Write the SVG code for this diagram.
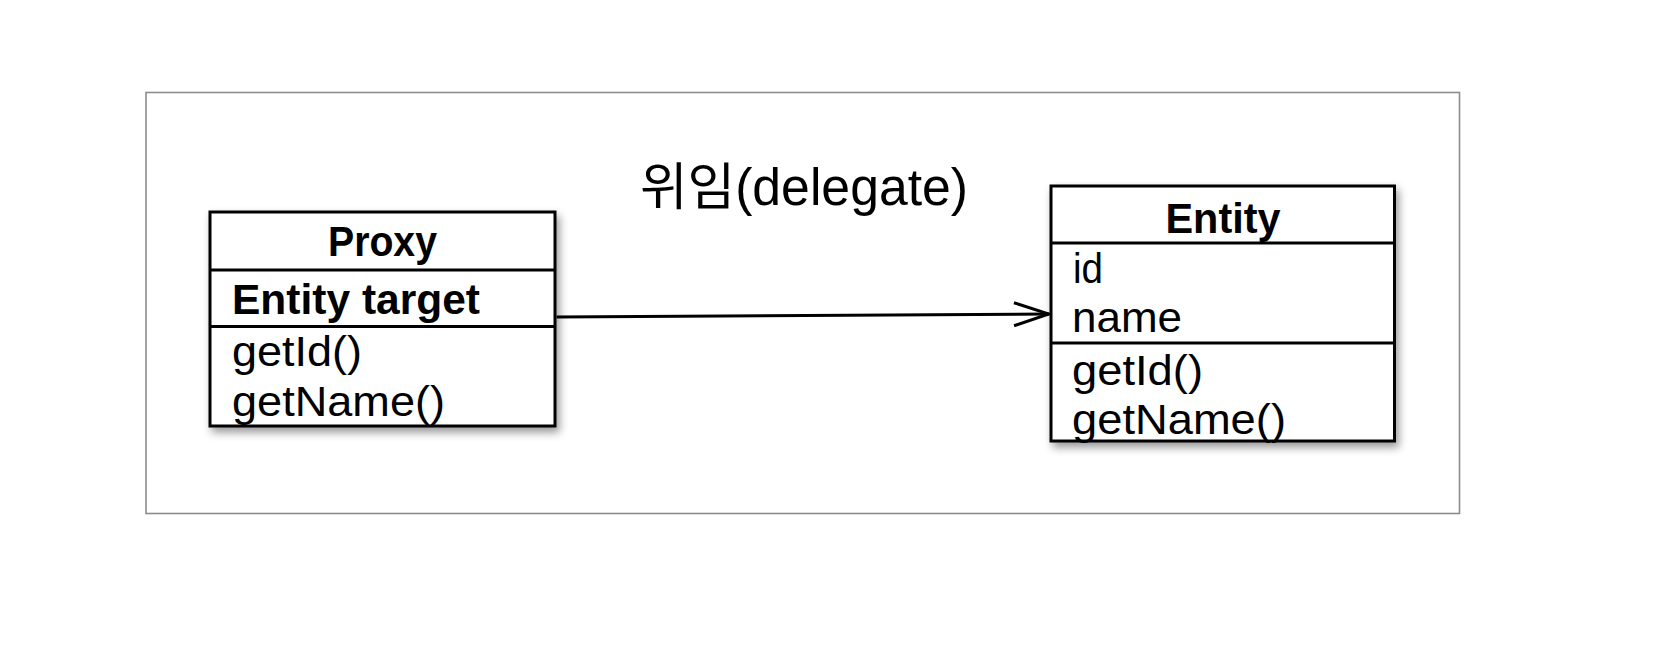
<svg xmlns="http://www.w3.org/2000/svg" width="1660" height="650" viewBox="0 0 1660 650">
  <defs>
    <filter id="shadow" x="-10%" y="-10%" width="130%" height="130%">
      <feDropShadow dx="3" dy="5" stdDeviation="4" flood-color="#000" flood-opacity="0.4"/>
    </filter>
    <marker id="open-arrow" markerUnits="userSpaceOnUse" viewBox="0 0 40 28" refX="37" refY="14" markerWidth="40" markerHeight="28" orient="auto">
      <path d="M2,2.5 L37,14 L2,25.5" fill="none" stroke="#000" stroke-width="3"/>
    </marker>
  </defs>
  <style>
    .frame { fill: none; stroke: #8c8c8c; stroke-width: 1.6; }
    .box { fill: #fff; stroke: #000; stroke-width: 3; }
    .div { stroke: #000; stroke-width: 3; }
    .bold { font-family: "Liberation Sans", "Noto Sans CJK KR", sans-serif; font-weight: bold; font-size: 43px; fill: #000; }
    .reg { font-family: "Liberation Sans", "Noto Sans CJK KR", sans-serif; font-size: 42px; fill: #000; }
    .title { font-family: "Liberation Sans", "Noto Sans CJK KR", sans-serif; font-size: 51px; fill: #000; }
    .conn { stroke: #000; stroke-width: 3; fill: none; }
  </style>
  <rect width="1660" height="650" fill="#fff"/>
  <rect class="frame" x="146" y="92.5" width="1313.5" height="421"/>

  <g id="label-delegate">
    <text class="title" x="640" y="205" textLength="328" lengthAdjust="spacingAndGlyphs">위임(delegate)</text>
  </g>

  <g id="proxy">
    <rect class="box" x="210" y="212" width="345" height="214" filter="url(#shadow)"/>
    <line class="div" x1="210" y1="270" x2="555" y2="270"/>
    <line class="div" x1="210" y1="326.5" x2="555" y2="326.5"/>
    <text class="bold" x="382.5" y="256" text-anchor="middle" textLength="109" lengthAdjust="spacingAndGlyphs">Proxy</text>
    <text class="bold" x="232" y="314" textLength="248" lengthAdjust="spacingAndGlyphs">Entity target</text>
    <text class="reg" x="232" y="366" textLength="130" lengthAdjust="spacingAndGlyphs">getId()</text>
    <text class="reg" x="232" y="416" textLength="213" lengthAdjust="spacingAndGlyphs">getName()</text>
  </g>

  <g id="entity">
    <rect class="box" x="1051" y="186" width="343.5" height="255" filter="url(#shadow)"/>
    <line class="div" x1="1051" y1="243" x2="1394.5" y2="243"/>
    <line class="div" x1="1051" y1="343" x2="1394.5" y2="343"/>
    <text class="bold" x="1223" y="233" text-anchor="middle" textLength="115" lengthAdjust="spacingAndGlyphs">Entity</text>
    <text class="reg" x="1073" y="283" textLength="30" lengthAdjust="spacingAndGlyphs">id</text>
    <text class="reg" x="1072" y="332" textLength="110" lengthAdjust="spacingAndGlyphs">name</text>
    <text class="reg" x="1072" y="385" textLength="131" lengthAdjust="spacingAndGlyphs">getId()</text>
    <text class="reg" x="1072" y="434" textLength="214" lengthAdjust="spacingAndGlyphs">getName()</text>
  </g>

  <g id="connectors">
    <line class="conn" x1="556.5" y1="317" x2="1049" y2="314" marker-end="url(#open-arrow)"/>
  </g>
</svg>
